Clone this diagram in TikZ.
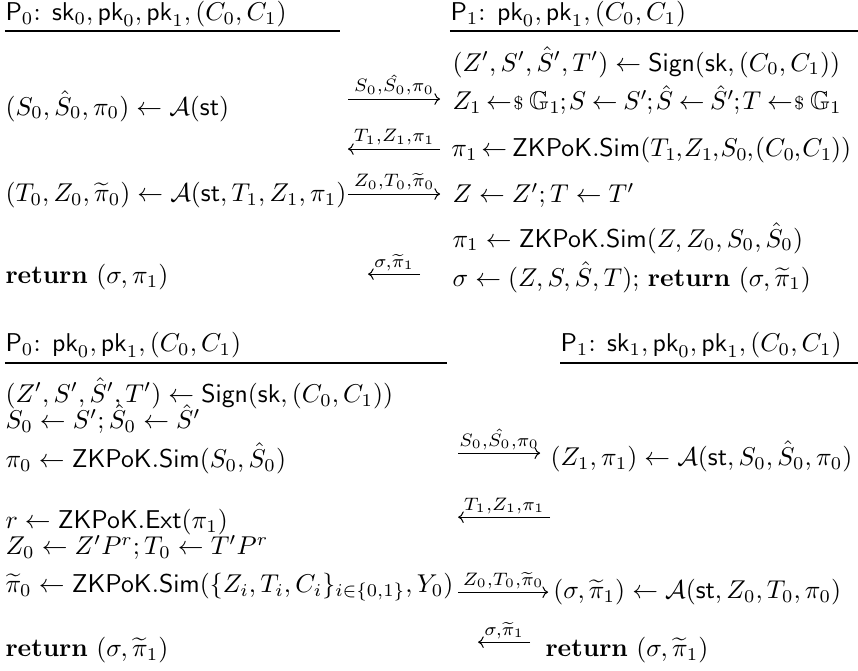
\documentclass[tikz,border=0pt]{standalone}
\usepackage{amsmath,amssymb}
\usepackage{tikz}
\usetikzlibrary{arrows.meta}

\newcommand{\rndget}{\mathrel{\leftarrow\!\!{\scriptstyle\$}}}

\begin{document}
\begin{tikzpicture}[
    scale=1.034,
    stmt/.style={anchor=west,inner sep=0pt,text=black},
    tight/.style={execute at begin node={\thinmuskip=1.5mu\thickmuskip=4mu plus 2mu\scriptspace=0pt}},
    tighter/.style={execute at begin node={\thinmuskip=1mu\thickmuskip=3.5mu plus 1mu\scriptspace=0pt}},
    hdrline/.style={line width=0.8pt,black},
    msg/.style={-{To[length=2.2pt,width=4.5pt]},line width=0.4pt,black},
    lbl/.style={above,inner sep=1.2pt,text=black},
]
    \path[use as bounding box] (0,0) rectangle (11.33,8.85);

    % first protocol
    \node[stmt] (hdA0) at (0.066,8.662) {$\mathsf{P}_0$: $\mathsf{sk}_0,\mathsf{pk}_0,\mathsf{pk}_1,(C_0,C_1)$};
    \node[stmt] (hdA1) at (5.942,8.662) {$\mathsf{P}_1$: $\mathsf{pk}_0,\mathsf{pk}_1,(C_0,C_1)$};
    \draw[hdrline] (0.066,8.438) -- (4.490,8.438);
    \draw[hdrline] (5.942,8.438) -- (11.330,8.438);

    \node[stmt] (b1) at (0.066,7.448) {$(S_0,\hat{S}_0,\pi_0)\leftarrow\mathcal{A}(\mathsf{st})$};
    \node[stmt] (b2) at (0.066,6.272) {$(T_0,Z_0,\widetilde{\pi}_0)\leftarrow\mathcal{A}(\mathsf{st},T_1,Z_1,\pi_1)$};
    \node[stmt] (b3) at (0.066,5.190) {\textbf{return} $(\sigma,\pi_1)$};

    \node[stmt] (a1) at (5.969,8.029) {$(Z',S',\hat{S}',T')\leftarrow\mathsf{Sign}(\mathsf{sk},(C_0,C_1))$};
    \node[stmt,tight] (a2) at (5.969,7.527) {$Z_1\rndget\mathbb{G}_1;S\leftarrow S';\hat{S}\leftarrow\hat{S}';T\rndget\mathbb{G}_1$};
    \node[stmt,tighter] (a3) at (5.955,6.867) {$\pi_1\leftarrow\mathsf{ZKPoK.Sim}(T_1,Z_1,S_0,(C_0,C_1))$};
    \node[stmt] (a4) at (5.969,6.272) {$Z\leftarrow Z';T\leftarrow T'$};
    \node[stmt] (a5) at (5.969,5.705) {$\pi_1\leftarrow\mathsf{ZKPoK.Sim}(Z,Z_0,S_0,\hat{S}_0)$};
    \node[stmt] (a6) at (5.969,5.190) {$\sigma\leftarrow(Z,S,\hat{S},T)$; \textbf{return} $(\sigma,\widetilde{\pi}_1)$};

    \coordinate (m1l) at (4.595,7.540);
    \coordinate (m1r) at (5.810,7.540);
    \coordinate (m2l) at (4.595,6.880);
    \coordinate (m2r) at (5.810,6.880);
    \coordinate (m3l) at (4.595,6.286);
    \coordinate (m3r) at (5.810,6.286);
    \coordinate (m4l) at (4.859,5.229);
    \coordinate (m4r) at (5.546,5.229);
    \draw[msg] (m1l) -- node[lbl] {$\scriptstyle S_0,\hat{S_0},\pi_0$} (m1r);
    \draw[msg] (m2r) -- node[lbl] {$\scriptstyle T_1,Z_1,\pi_1$} (m2l);
    \draw[msg] (m3l) -- node[lbl] {$\scriptstyle Z_0,T_0,\widetilde{\pi}_0$} (m3r);
    \draw[msg] (m4r) -- node[lbl] {$\scriptstyle \sigma,\widetilde{\pi}_1$} (m4l);

    % second protocol
    \node[stmt] (hdB0) at (0.066,4.292) {$\mathsf{P}_0$: $\mathsf{pk}_0,\mathsf{pk}_1,(C_0,C_1)$};
    \node[stmt] (hdB1) at (7.395,4.292) {$\mathsf{P}_1$: $\mathsf{sk}_1,\mathsf{pk}_0,\mathsf{pk}_1,(C_0,C_1)$};
    \draw[hdrline] (0.066,4.054) -- (5.903,4.054);
    \draw[hdrline] (7.395,4.054) -- (11.330,4.054);

    \node[stmt] (c1) at (0.066,3.658) {$(Z',S',\hat{S}',T')\leftarrow\mathsf{Sign}(\mathsf{sk},(C_0,C_1))$};
    \node[stmt] (c2) at (0.066,3.314) {$S_0\leftarrow S';\hat{S}_0\leftarrow\hat{S}'$};
    \node[stmt] (c3) at (0.066,2.799) {$\pi_0\leftarrow\mathsf{ZKPoK.Sim}(S_0,\hat{S}_0)$};
    \node[stmt] (c4) at (0.066,1.954) {$r\leftarrow\mathsf{ZKPoK.Ext}(\pi_1)$};
    \node[stmt] (c5) at (0.066,1.624) {$Z_0\leftarrow Z'P^r;T_0\leftarrow T'P^r$};
    \node[stmt] (c6) at (0.066,1.096) {$\widetilde{\pi}_0\leftarrow\mathsf{ZKPoK.Sim}(\{Z_i,T_i,C_i\}_{i\in\{0,1\}},Y_0)$};
    \node[stmt] (c7) at (0.066,0.264) {\textbf{return} $(\sigma,\widetilde{\pi}_1)$};

    \node[stmt] (d1) at (7.263,2.826) {$(Z_1,\pi_1)\leftarrow\mathcal{A}(\mathsf{st},S_0,\hat{S}_0,\pi_0)$};
    \node[stmt] (d2) at (7.300,1.030) {$(\sigma,\widetilde{\pi}_1)\leftarrow\mathcal{A}(\mathsf{st},Z_0,T_0,\pi_0)$};
    \node[stmt] (d3) at (7.197,0.264) {\textbf{return} $(\sigma,\widetilde{\pi}_1)$};

    \coordinate (n1l) at (6.048,2.865);
    \coordinate (n1r) at (7.131,2.865);
    \coordinate (n2l) at (6.048,2.020);
    \coordinate (n2r) at (7.263,2.020);
    \coordinate (n3l) at (6.048,1.030);
    \coordinate (n3r) at (7.236,1.030);
    \coordinate (n4l) at (6.312,0.370);
    \coordinate (n4r) at (6.999,0.370);
    \draw[msg] (n1l) -- node[lbl] {$\scriptstyle S_0,\hat{S_0},\pi_0$} (n1r);
    \draw[msg] (n2r) -- node[lbl] {$\scriptstyle T_1,Z_1,\pi_1$} (n2l);
    \draw[msg] (n3l) -- node[lbl] {$\scriptstyle Z_0,T_0,\widetilde{\pi}_0$} (n3r);
    \draw[msg] (n4r) -- node[lbl] {$\scriptstyle \sigma,\widetilde{\pi}_1$} (n4l);
\end{tikzpicture}
\end{document}
